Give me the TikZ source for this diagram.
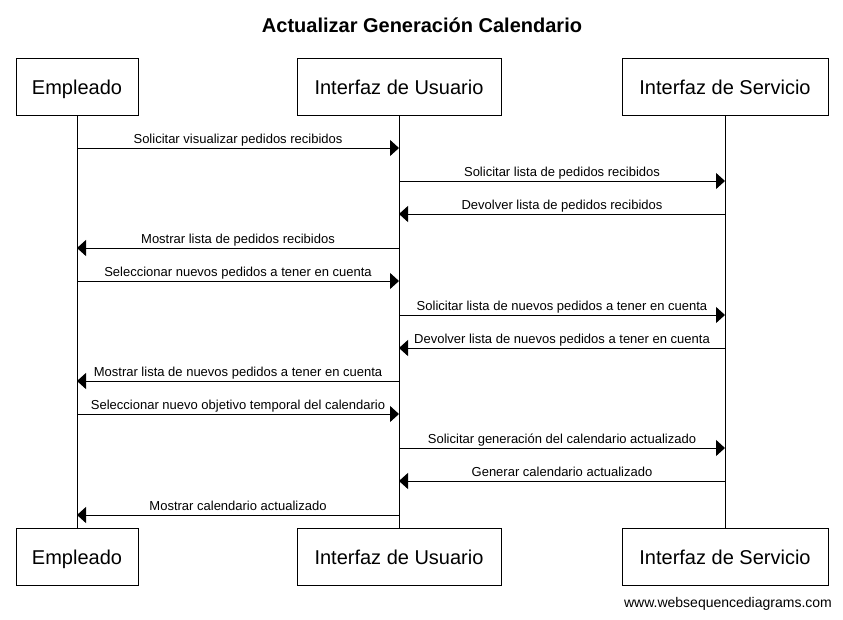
\documentclass[tikz,border=0pt]{standalone}
\usepackage{fontspec}
\setmainfont{Liberation Sans}
\usepackage{tikz}
\usetikzlibrary{arrows.meta}

\begin{document}
\begin{tikzpicture}[x=1pt,y=-1pt,
    actor/.style={shape=rectangle,draw,line width=1pt,minimum height=57pt,
                  text height=15.6pt,text depth=0pt,
                  font=\fontsize{20}{24}\selectfont},
    life/.style={-,line width=1pt},
    msg/.style={-{Triangle[length=9pt,width=16pt]},line width=1pt},
    lbl/.style={midway,anchor=base,yshift=5pt,inner sep=0pt,
                font=\fontsize{13}{15}\selectfont}]

      \useasboundingbox (0,0) rectangle (843,619);

      \path node (title) at (422,25)
            [font=\bfseries\fontsize{20}{24}\selectfont] {Actualizar Generación Calendario};

      \path node (empleado) at (77,87) [actor,minimum width=122pt] {Empleado};
      \path node (usuario) at (399,87) [actor,minimum width=204pt] {Interfaz de Usuario};
      \path node (servicio) at (725,87) [actor,minimum width=206pt] {Interfaz de Servicio};

      \path node (empleado2) at (77,556.5) [actor,minimum width=122pt] {Empleado};
      \path node (usuario2) at (399,556.5) [actor,minimum width=204pt] {Interfaz de Usuario};
      \path node (servicio2) at (725,556.5) [actor,minimum width=206pt] {Interfaz de Servicio};

      \draw[life] (empleado.south) -- (empleado2.north);
      \draw[life] (usuario.south) -- (usuario2.north);
      \draw[life] (servicio.south) -- (servicio2.north);

      \draw[msg] (empleado.south |- 0,148) -- (usuario.south |- 0,148)
           node [lbl] {Solicitar visualizar pedidos recibidos};
      \draw[msg] (usuario.south |- 0,181) -- (servicio.south |- 0,181)
           node [lbl] {Solicitar lista de pedidos recibidos};
      \draw[msg] (servicio.south |- 0,214) -- (usuario.south |- 0,214)
           node [lbl] {Devolver lista de pedidos recibidos};
      \draw[msg] (usuario.south |- 0,248) -- (empleado.south |- 0,248)
           node [lbl] {Mostrar lista de pedidos recibidos};
      \draw[msg] (empleado.south |- 0,281) -- (usuario.south |- 0,281)
           node [lbl] {Seleccionar nuevos pedidos a tener en cuenta};
      \draw[msg] (usuario.south |- 0,315) -- (servicio.south |- 0,315)
           node [lbl] {Solicitar lista de nuevos pedidos a tener en cuenta};
      \draw[msg] (servicio.south |- 0,348) -- (usuario.south |- 0,348)
           node [lbl] {Devolver lista de nuevos pedidos a tener en cuenta};
      \draw[msg] (usuario.south |- 0,381) -- (empleado.south |- 0,381)
           node [lbl] {Mostrar lista de nuevos pedidos a tener en cuenta};
      \draw[msg] (empleado.south |- 0,414) -- (usuario.south |- 0,414)
           node [lbl] {Seleccionar nuevo objetivo temporal del calendario};
      \draw[msg] (usuario.south |- 0,448) -- (servicio.south |- 0,448)
           node [lbl] {Solicitar generación del calendario actualizado};
      \draw[msg] (servicio.south |- 0,481) -- (usuario.south |- 0,481)
           node [lbl] {Generar calendario actualizado};
      \draw[msg] (usuario.south |- 0,515) -- (empleado.south |- 0,515)
           node [lbl] {Mostrar calendario actualizado};

      \path node (web) at (728,604) [font=\fontsize{14}{16}\selectfont]
            {www.websequencediagrams.com};
    \end{tikzpicture}
\end{document}
